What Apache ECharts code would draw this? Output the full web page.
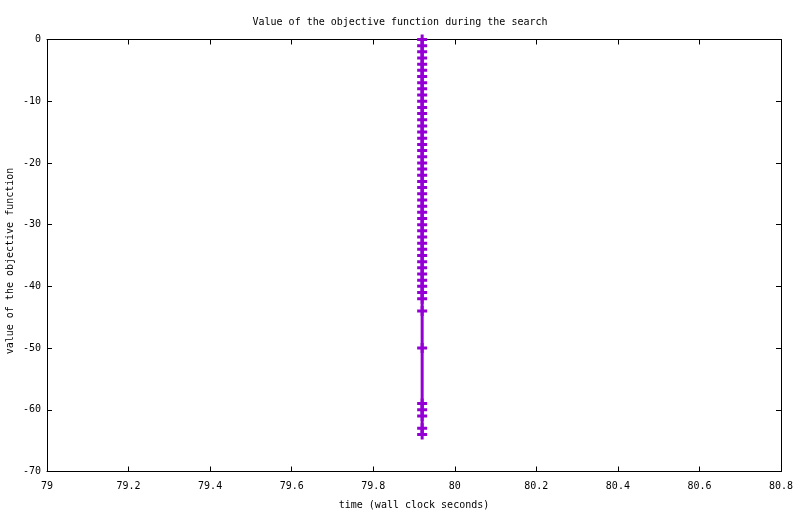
<!DOCTYPE html>
<html>
<head>
<meta charset="utf-8">
<script src="https://cdn.jsdelivr.net/npm/echarts@6/dist/echarts.min.js"></script>
<style>
html,body{margin:0;padding:0;background:#fff;}
#chart{width:800px;height:514px;}
</style>
</head>
<body>
<div id="chart"></div>
<script>
// Data
var timeValues = [
  79.92,79.92,79.92,79.92,79.92,79.92,79.92,79.92,79.92,79.92,
  79.92,79.92,79.92,79.92,79.92,79.92,79.92,79.92,79.92,79.92,
  79.92,79.92,79.92,79.92,79.92,79.92,79.92,79.92,79.92,79.92,
  79.92,79.92,79.92,79.92,79.92,79.92,79.92,79.92,79.92,79.92,
  79.92,79.92,79.92,79.92,79.92,79.92,79.92,79.92,79.92,79.92
];
var objectiveValues = [
  0,-1,-2,-3,-4,-5,-6,-7,-8,-9,
  -10,-11,-12,-13,-14,-15,-16,-17,-18,-19,
  -20,-21,-22,-23,-24,-25,-26,-27,-28,-29,
  -30,-31,-32,-33,-34,-35,-36,-37,-38,-39,
  -40,-41,-42,-44,-50,-59,-60,-61,-63,-64
];
var xTicks = {min: 79, max: 80.8, interval: 0.2};
var yTicks = {min: -70, max: 0, interval: 10};
var titleText = 'Value of the objective function during the search';
var xLabel = 'time (wall clock seconds)';
var yLabel = 'value of the objective function';

var points = timeValues.map(function (t, i) { return [t, objectiveValues[i]]; });

var FONT = 'DejaVu Sans Mono';
var FS = 10;
var plus = 'path://M3.5,0H6.5V3.5H10V6.5H6.5V10H3.5V6.5H0V3.5H3.5Z';

var chart = echarts.init(document.getElementById('chart'), null, {renderer: 'canvas'});
var axisLine = {show: true, onZero: false, lineStyle: {color: '#000', width: 1}};
var axisTick = {show: true, inside: true, length: 5, lineStyle: {color: '#000', width: 1}};
chart.setOption({
  animation: false,
  backgroundColor: '#fff',
  title: {
    text: titleText, left: 'center', top: 12,
    textStyle: {fontFamily: FONT, fontSize: FS, fontWeight: 'normal', color: '#000'}
  },
  graphic: [{
    type: 'text', x: 10, y: 261, rotation: Math.PI / 2,
    style: {text: yLabel, fontFamily: FONT, fontSize: FS, fill: '#000',
      textAlign: 'center', textVerticalAlign: 'middle'}
  }],
  grid: {left: 47, right: 19, top: 39.5, bottom: 42.5, containLabel: false, outerBoundsMode: 'none'},
  xAxis: [{
    type: 'value', position: 'bottom',
    min: xTicks.min, max: xTicks.max, interval: xTicks.interval,
    axisLine: axisLine, axisTick: axisTick, splitLine: {show: false},
    axisLabel: {fontFamily: FONT, fontSize: FS, color: '#000', margin: 10,
      formatter: function (v) { return String(Math.round(v * 10) / 10); }},
    name: xLabel, nameLocation: 'middle', nameGap: 29,
    nameTextStyle: {fontFamily: FONT, fontSize: FS, color: '#000'}
  }, {
    type: 'value', position: 'top',
    min: xTicks.min, max: xTicks.max, interval: xTicks.interval,
    axisLine: axisLine, axisTick: axisTick, splitLine: {show: false},
    axisLabel: {show: false}
  }],
  yAxis: [{
    type: 'value', position: 'left',
    min: yTicks.min, max: yTicks.max, interval: yTicks.interval,
    axisLine: axisLine, axisTick: axisTick, splitLine: {show: false},
    axisLabel: {fontFamily: FONT, fontSize: FS, color: '#000', margin: 6}
  }, {
    type: 'value', position: 'right',
    min: yTicks.min, max: yTicks.max, interval: yTicks.interval,
    axisLine: axisLine, axisTick: axisTick, splitLine: {show: false},
    axisLabel: {show: false}
  }],
  series: [{
    type: 'line',
    data: points,
    xAxisIndex: 0, yAxisIndex: 0,
    lineStyle: {color: '#9400D3', width: 3},
    itemStyle: {color: '#9400D3'},
    symbol: plus, symbolSize: 10,
    showAllSymbol: true,
    clip: false
  }]
});
</script>
</body>
</html>
